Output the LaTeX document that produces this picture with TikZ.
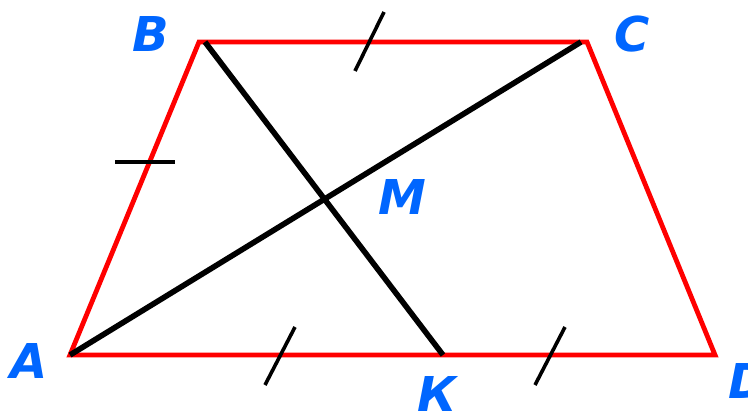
\documentclass[tikz,border=0pt]{standalone}
\usepackage{fontspec}
\newfontfamily\lblfont{DejaVu Sans}
\usetikzlibrary{positioning}
\definecolor{lblblue}{RGB}{0,102,255}

\begin{document}
\begin{tikzpicture}[x=0.5pt, y=-0.5pt,
    side/.style={draw=red, line width=2.4pt, line join=miter},
    segment/.style={draw=black, line width=2.8pt},
    tick/.style={draw=black, line width=1.8pt},
    vlabel/.style={font=\lblfont\bfseries\itshape\fontsize{24}{24}\selectfont, text=lblblue, inner sep=0pt}
]
\useasboundingbox (0,0) rectangle (748,411);

% Vertices
\coordinate (A) at (70,355);
\coordinate (B) at (199,42);
\coordinate (C) at (587,42);
\coordinate (D) at (715,355);
\coordinate (K) at (443,355);

% Trapezoid
\draw[side] (A) -- (B) -- (C) -- (D) -- cycle;

% Diagonal and segment BK
\draw[segment] (A) -- (581,42);
\draw[segment] (205,42) -- (K);

% Equal marks
\draw[tick] (115,162) -- (175,162);
\draw[tick] (355,71) -- (384,12);
\draw[tick] (265,385) -- (295,327);
\draw[tick] (535,385) -- (565,327);

% Labels
\node[vlabel] (labA) at (29,361) {A};
\node[vlabel] (labB) at (151,34) {B};
\node[vlabel] (labC) at (632,34) {C};
\node[vlabel] (labD) at (748,381) {D};
\node[vlabel] (labM) at (402,197) {M};
\node[vlabel] (labK) at (437,394) {К};

\end{tikzpicture}
\end{document}
